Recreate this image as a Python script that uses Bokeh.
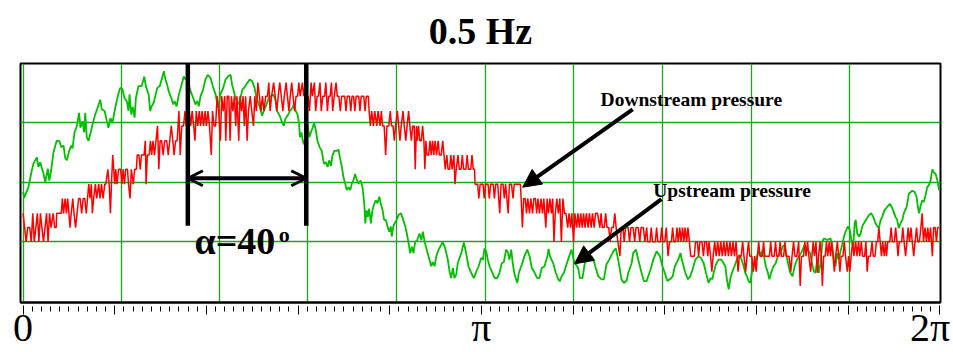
from bokeh.plotting import figure
from bokeh.models import Range1d, FixedTicker, Label, Arrow, OpenHead, NormalHead
from bokeh.embed import file_html
from bokeh.resources import INLINE

# Phase is in degrees: 0 .. 360 corresponds to 0 .. 2π on the axis.
# Pressure values are in grid divisions (four divisions from bottom to top).

# Upstream pressure (green trace)
green_deg = [
    0, 0.4, 2.1, 3.4, 4.1, 5.4, 6.0, 6.7, 8.0, 8.7,
    9.7, 10.3, 11.0, 11.9, 13.2, 14.2, 15.0, 15.9, 16.5, 17.2,
    18.1, 18.9, 19.4, 20.2, 21.1, 22.0, 22.5, 23.3, 24.0, 24.4,
    25.0, 25.7, 26.7, 27.3, 28.3, 29.3, 30.3, 30.9, 32.0, 32.9,
    33.5, 34.3, 35.1, 36.2, 37.2, 38.1, 39.0, 39.8, 40.7, 41.4,
    41.8, 42.5, 43.1, 43.8, 44.3, 45.3, 46.6, 47.6, 48.2, 49.3,
    49.9, 50.5, 51.3, 52.7, 53.7, 54.6, 55.3, 55.9, 56.6, 57.2,
    58.2, 59.0, 59.5, 60.3, 61.2, 62.1, 63.1, 63.8, 64.5, 65.1,
    65.8, 66.8, 67.7, 68.4, 69.0, 69.7, 70.7, 71.6, 72.5, 73.6,
    74.7, 75.6, 76.2, 76.9, 77.5, 78.6, 79.5, 80.4, 81.5, 82.1,
    82.8, 83.4, 84.3, 85.1, 86.1, 87.0, 88.0, 89.0, 90.0, 90.9,
    91.7, 92.6, 93.2, 93.9, 94.5, 95.6, 96.5, 97.2, 98.2, 99.1,
    99.8, 100.8, 101.8, 102.4, 102.9, 103.8, 104.8, 105.8, 106.5, 107.1,
    107.8, 108.4, 108.7, 109.3, 110.0, 110.5, 111.0, 111.7, 112.4, 113.0,
    113.7, 114.3, 115.0, 115.6, 116.5, 117.3, 117.9, 118.3, 118.9, 119.6,
    120.2, 120.9, 121.5, 122.2, 123.1, 123.9, 124.4, 125.2, 125.8, 126.5,
    127.1, 127.8, 128.5, 129.1, 129.7, 130.4, 130.9, 131.7, 132.6, 133.3,
    134.0, 134.4, 134.9, 135.4, 135.9, 136.6, 137.2, 137.9, 138.5, 139.2,
    139.9, 140.5, 141.2, 141.8, 142.5, 143.1, 143.8, 144.4, 144.8, 145.4,
    145.9, 146.7, 147.4, 148.4, 149.3, 150.1, 150.7, 151.4, 152.0, 152.7,
    153.3, 154.0, 154.8, 155.7, 156.4, 157.0, 157.7, 158.7, 159.6, 160.3,
    160.9, 161.6, 162.3, 163.2, 164.2, 164.8, 165.8, 166.8, 167.5, 168.1,
    168.8, 169.4, 170.1, 170.7, 172.1, 173.1, 174.0, 174.9, 176.0, 177.0,
    178.0, 178.9, 179.9, 180.6, 181.2, 181.9, 182.5, 183.2, 184.1, 185.2,
    186.2, 187.1, 188.0, 188.8, 189.7, 190.4, 191.0, 191.7, 192.3, 193.0,
    194.1, 194.7, 195.9, 196.9, 198.0, 198.9, 199.8, 200.9, 201.9, 202.8,
    203.7, 204.8, 205.9, 206.4, 206.9, 208.2, 209.2, 210.2, 210.8, 211.5,
    212.4, 213.4, 214.5, 215.4, 216.2, 217.1, 218.0, 218.7, 219.7, 220.6,
    222.0, 223.3, 224.0, 224.9, 225.9, 227.2, 228.1, 229.1, 230.2, 231.8,
    232.8, 233.7, 234.4, 235.0, 235.9, 237.0, 237.7, 239.0, 239.6, 240.7,
    241.6, 242.9, 243.8, 244.9, 245.5, 246.4, 247.5, 248.8, 250.1, 251.1,
    252.0, 253.0, 254.0, 255.1, 256.0, 257.3, 258.2, 258.7, 260.1, 261.1,
    262.0, 262.9, 264.0, 265.3, 266.2, 267.3, 268.2, 269.2, 270.0, 270.7,
    271.2, 272.1, 273.1, 274.2, 275.1, 275.8, 276.4, 277.1, 277.7, 278.4,
    279.4, 280.3, 281.3, 282.2, 283.0, 283.6, 284.3, 284.9, 285.6, 286.2,
    287.3, 288.2, 289.1, 289.8, 290.4, 291.2, 291.7, 292.5, 293.1, 293.8,
    294.7, 295.6, 296.4, 297.4, 298.3, 299.1, 299.6, 300.4, 301.3, 302.2,
    303.0, 303.9, 304.8, 305.9, 306.9, 307.8, 309.1, 309.9, 310.6, 311.2,
    311.9, 312.5, 313.2, 313.9, 314.5, 315.8, 317.1, 317.8, 318.4, 319.1,
    319.7, 320.4, 321.0, 321.7, 322.4, 323.0, 323.9, 324.7, 325.3, 326.0,
    326.6, 327.0, 327.6, 328.3, 328.9, 329.6, 330.2, 331.3, 332.2, 333.1,
    333.9, 334.8, 335.5, 336.1, 336.8, 337.4, 338.3, 339.4, 340.4, 341.1,
    341.7, 342.6, 343.3, 343.9, 344.6, 345.3, 345.9, 347.0, 347.9, 349.2,
    350.1, 350.9, 351.4, 351.9, 352.4, 353.1, 353.7, 354.4, 355.1, 355.7,
    356.4, 357.1, 357.7, 358.4, 359.1, 359.7,
]
green_val = [
    1.84, 1.74, 1.92, 2.2, 2.32, 2.42, 2.26, 2.34, 2.15, 2.0,
    2.23, 2.03, 2.2, 2.5, 2.7, 2.7, 2.59, 2.62, 2.42, 2.37,
    2.53, 2.62, 2.57, 2.84, 2.95, 3.17, 2.92, 3.03, 2.84, 3.17,
    2.76, 2.7, 2.87, 2.98, 3.14, 3.26, 3.39, 3.23, 3.2, 3.03,
    2.92, 3.08, 3.0, 3.26, 3.45, 3.59, 3.57, 3.42, 3.37, 3.2,
    3.48, 3.14, 3.27, 3.09, 3.42, 3.62, 3.62, 3.78, 3.62, 3.48,
    3.2, 3.28, 3.34, 3.59, 3.62, 3.76, 3.87, 3.73, 3.64, 3.53,
    3.42, 3.31, 3.37, 3.28, 3.48, 3.62, 3.78, 3.73, 3.78, 3.64,
    3.53, 3.42, 3.31, 3.37, 3.28, 3.45, 3.56, 3.73, 3.81, 3.76,
    3.59, 3.48, 3.34, 3.31, 3.48, 3.59, 3.73, 3.78, 3.81, 3.64,
    3.53, 3.42, 3.31, 3.37, 3.56, 3.6, 3.67, 3.73, 3.7, 3.59,
    3.42, 3.31, 3.23, 3.12, 3.2, 3.31, 3.42, 3.45, 3.48, 3.39,
    3.2, 3.12, 3.0, 2.95, 3.06, 3.12, 3.2, 3.26, 3.31, 3.2,
    3.14, 2.98, 2.76, 2.84, 2.67, 2.64, 2.89, 2.98, 2.76, 2.84,
    2.92, 3.0, 2.87, 2.7, 2.59, 2.53, 2.37, 2.31, 2.34, 2.26,
    2.37, 2.28, 2.45, 2.53, 2.53, 2.55, 2.42, 2.26, 2.09, 1.98,
    1.87, 1.92, 1.87, 1.98, 2.03, 2.14, 2.06, 1.98, 2.03, 1.92,
    1.64, 1.31, 1.53, 1.42, 1.56, 1.31, 1.53, 1.64, 1.7, 1.65,
    1.76, 1.64, 1.53, 1.37, 1.37, 1.26, 1.17, 1.26, 1.09, 1.26,
    1.31, 1.37, 1.45, 1.48, 1.37, 1.26, 1.14, 0.98, 0.81, 0.92,
    0.81, 1.0, 1.03, 1.14, 1.03, 1.17, 1.0, 0.84, 0.7, 0.59,
    0.66, 0.59, 0.76, 0.87, 0.95, 1.0, 0.89, 0.7, 0.5, 0.39,
    0.56, 0.39, 0.45, 0.64, 0.81, 0.99, 0.81, 0.59, 0.48, 0.39,
    0.5, 0.59, 0.73, 0.7, 0.89, 0.84, 0.7, 0.59, 0.5, 0.39,
    0.39, 0.48, 0.64, 0.66, 0.87, 0.82, 0.7, 0.87, 0.64, 0.45,
    0.31, 0.48, 0.62, 0.76, 0.87, 0.76, 0.56, 0.48, 0.39, 0.39,
    0.56, 0.59, 0.76, 0.88, 0.76, 0.64, 0.48, 0.37, 0.34, 0.42,
    0.48, 0.62, 0.76, 0.87, 0.7, 0.62, 0.56, 0.39, 0.39, 0.64,
    0.73, 0.76, 0.7, 0.56, 0.42, 0.37, 0.37, 0.62, 0.7, 0.84,
    0.89, 0.7, 0.53, 0.37, 0.31, 0.34, 0.48, 0.64, 0.81, 0.87,
    0.7, 0.48, 0.34, 0.34, 0.42, 0.53, 0.7, 0.84, 0.76, 0.59,
    0.48, 0.34, 0.37, 0.42, 0.59, 0.7, 0.81, 0.7, 0.48, 0.37,
    0.42, 0.53, 0.7, 0.76, 0.73, 0.64, 0.48, 0.31, 0.39, 0.37,
    0.48, 0.62, 0.7, 0.7, 0.64, 0.59, 0.37, 0.2, 0.37, 0.48,
    0.59, 0.7, 0.78, 0.7, 0.59, 0.48, 0.42, 0.34, 0.31, 0.48,
    0.62, 0.76, 0.84, 0.76, 0.87, 0.7, 0.59, 0.48, 0.37, 0.48,
    0.59, 0.64, 0.76, 0.81, 0.92, 0.95, 0.81, 0.64, 0.48, 0.42,
    0.59, 0.7, 0.76, 0.84, 0.95, 0.87, 0.81, 0.62, 0.5, 0.48,
    0.7, 0.48, 0.64, 1.0, 1.06, 1.03, 1.06, 0.92, 0.7, 0.59,
    0.81, 0.7, 0.84, 0.95, 1.09, 1.17, 1.26, 1.2, 1.03, 0.92,
    1.31, 1.37, 1.14, 1.09, 1.14, 1.26, 1.31, 1.39, 1.45, 1.48,
    1.42, 1.31, 1.26, 1.23, 1.37, 1.42, 1.53, 1.59, 1.64, 1.59,
    1.53, 1.42, 1.37, 1.23, 1.31, 1.37, 1.48, 1.59, 1.81, 1.86,
    1.84, 1.76, 1.59, 1.48, 1.59, 1.7, 1.67, 1.78, 1.92, 1.95,
    2.03, 2.22, 2.17, 2.14, 2.03, 1.87,
]

# Downstream pressure (red trace), (phase in degrees, value) samples
red_samples = [
    (0, 1.48), (0.6, 1.24), (1.2, 1.0), (1.8, 1.24), (2.6, 1.24), (3.2, 1.0), (3.8, 1.48),
    (4.4, 1.0), (5.0, 1.24), (5.6, 1.48), (6.2, 1.0), (6.8, 1.48), (7.4, 1.24), (8.0, 1.0),
    (8.6, 1.24), (9.2, 1.48), (9.8, 1.0), (10.4, 1.48), (11.0, 1.24), (11.8, 1.48), (12.4, 1.24),
    (13.0, 1.24), (13.2, 1.48), (15.0, 1.48),
    (15.4, 1.73), (15.9, 1.48), (16.5, 1.73), (17.0, 1.48), (17.5, 1.73), (18.0, 1.48), (18.4, 1.24),
    (18.9, 1.48), (19.5, 1.73), (20.0, 1.48), (20.6, 1.24), (21.2, 1.48), (21.8, 1.73),
    (22.4, 1.73), (23.0, 1.48), (23.6, 1.73), (24.2, 1.73), (24.8, 1.48), (25.3, 1.73),
    (25.8, 1.97), (26.3, 1.73), (26.8, 1.97), (27.2, 1.48), (27.7, 1.73),
    (28.4, 1.97), (28.9, 1.73), (29.7, 1.97), (30.2, 1.73), (30.8, 1.97), (31.4, 1.73), (32.1, 1.97), (32.5, 1.97),
    (33.3, 2.22), (33.8, 1.97), (34.3, 1.48), (34.7, 1.97), (35.2, 2.46), (35.6, 2.22), (36.0, 1.97),
    (36.4, 2.22), (36.9, 1.97), (37.5, 2.22),
    (38.3, 2.22), (38.8, 1.97), (39.3, 2.22), (39.8, 1.97), (40.3, 2.22), (41.0, 2.22), (41.4, 1.97),
    (42.0, 1.73), (42.5, 2.22), (43.3, 1.97), (43.8, 2.22), (44.5, 2.22),
    (44.8, 2.46), (45.5, 2.46), (46.0, 2.22), (46.5, 2.46), (47.5, 2.46), (48.0, 2.7), (48.3, 1.97),
    (48.8, 2.46), (49.5, 2.46), (50.0, 2.7), (50.5, 2.46),
    (51.0, 2.7), (51.6, 2.46), (52.2, 2.7), (52.8, 2.95), (53.3, 2.22), (53.8, 2.7), (54.4, 2.7),
    (55.0, 2.46), (55.6, 2.7), (56.4, 2.7), (57.0, 2.46), (57.6, 2.7), (58.2, 2.95), (58.8, 2.7),
    (59.3, 2.46), (59.9, 2.7), (60.5, 2.7), (61.2, 3.2), (61.7, 2.46), (62.3, 2.95),
    (63.0, 2.95), (63.6, 3.2), (64.1, 2.95), (64.8, 2.95), (65.3, 3.2), (65.8, 2.95), (66.4, 3.2),
    (67.0, 2.95), (67.5, 2.7), (68.0, 3.2), (68.6, 2.95), (69.2, 3.2), (69.7, 2.95), (70.3, 3.2),
    (70.9, 2.95), (71.5, 3.2), (72.0, 2.95), (72.6, 3.2), (73.2, 2.95), (73.9, 2.46), (74.4, 3.2),
    (75.0, 2.95), (75.6, 2.95),
    (76.2, 3.45), (76.8, 3.2), (77.5, 2.7), (78.0, 3.45), (78.6, 3.2), (79.2, 3.45), (79.6, 2.7),
    (80.2, 3.45), (80.8, 3.45), (81.3, 2.7), (81.8, 3.45), (82.4, 3.2), (83.0, 3.45), (83.5, 2.95),
    (84.0, 3.45), (84.7, 2.7), (85.2, 3.45), (85.8, 3.2), (86.4, 3.45), (86.9, 2.95), (87.4, 3.45),
    (88.0, 2.7), (88.5, 3.2), (89.2, 3.45), (89.8, 3.2), (90.5, 2.95), (91.0, 3.45), (91.6, 3.2),
    (92.2, 3.68), (92.8, 3.45), (93.4, 3.2), (94.0, 3.45), (94.6, 3.2), (95.3, 3.45), (96.0, 3.45),
    (96.5, 3.68), (97.0, 3.2), (97.6, 3.45), (98.4, 3.68), (99.0, 3.45), (99.6, 3.2), (100.2, 3.45),
    (100.8, 3.68), (101.4, 3.45), (102.0, 3.2),
    (102.6, 3.45), (103.3, 3.68), (103.8, 3.45), (104.4, 3.2), (104.9, 3.45), (105.5, 3.68), (106.0, 3.45),
    (106.6, 3.2), (107.2, 3.45), (107.8, 3.45), (108.3, 3.68), (108.8, 3.45), (109.7, 3.68), (110.2, 3.45),
    (110.8, 3.68), (111.3, 3.2), (111.9, 3.45), (112.5, 3.2), (113.1, 3.68), (113.6, 3.45), (114.4, 3.68),
    (114.9, 3.2), (115.5, 3.45), (116.0, 3.45), (116.6, 3.68), (117.1, 3.2), (117.7, 3.45), (118.4, 3.45),
    (118.9, 3.68), (119.5, 3.2), (120.0, 3.45), (120.6, 3.45), (121.1, 3.68), (121.6, 3.2), (122.2, 3.45),
    (122.9, 3.68), (123.4, 3.45), (124.0, 3.45),
    (124.6, 3.2), (125.1, 3.45), (126.3, 3.45), (126.8, 3.2), (127.3, 3.45), (128.2, 3.45), (128.7, 3.2),
    (129.2, 3.45), (129.8, 3.45), (130.3, 3.2), (130.8, 3.45), (131.8, 3.45), (132.3, 3.2), (132.8, 3.45),
    (133.8, 3.45), (134.3, 3.2), (134.8, 3.45), (135.6, 3.45), (135.9, 3.2),
    (136.4, 2.95), (136.9, 3.2), (137.6, 2.95), (138.1, 3.2), (138.9, 2.95), (139.4, 3.2), (140.2, 2.95),
    (140.7, 3.2), (141.2, 2.95),
    (141.8, 2.95), (142.4, 2.46), (142.9, 2.95), (143.6, 2.95), (144.2, 3.2), (144.7, 2.95), (145.3, 2.95),
    (145.8, 2.7), (146.3, 2.95), (147.0, 3.2), (147.5, 2.95), (148.0, 2.7), (148.5, 2.95), (149.2, 3.2),
    (149.7, 2.95), (150.3, 2.7), (150.8, 2.95), (151.4, 3.2), (151.9, 2.95), (152.5, 2.7), (153.0, 2.95),
    (153.6, 2.95), (154.0, 2.22), (154.5, 2.95),
    (154.8, 2.7), (155.3, 2.95), (155.8, 2.7), (156.4, 2.7), (156.9, 2.95), (157.4, 2.7), (157.8, 2.22), (158.2, 2.7),
    (158.6, 2.46), (159.3, 2.46), (159.8, 2.7), (160.3, 2.46), (160.8, 2.7), (161.3, 2.46), (161.8, 2.7),
    (162.4, 2.46), (163.0, 2.7), (163.5, 2.46), (164.2, 2.46), (164.8, 2.7), (165.3, 2.46),
    (165.8, 2.22), (166.4, 2.46), (166.9, 2.22), (167.5, 2.22), (168.0, 2.46), (168.5, 2.22), (169.2, 2.46),
    (169.6, 1.97), (170.1, 2.22), (170.8, 2.46), (171.3, 2.22), (172.0, 2.22), (172.5, 2.46), (173.0, 2.22),
    (173.9, 2.22), (174.4, 2.46), (174.9, 2.22), (175.8, 2.22), (176.3, 2.46), (176.8, 2.22), (177.3, 2.22),
    (177.5, 1.97), (178.5, 1.97), (179.0, 1.73), (179.5, 1.97), (180.6, 1.97), (181.1, 1.73), (181.6, 1.97),
    (182.6, 1.97), (183.1, 1.73), (183.6, 1.97), (184.6, 1.97), (185.1, 1.73), (185.6, 1.97), (186.4, 1.97),
    (187.2, 1.48), (187.7, 1.97), (188.5, 1.97), (189.0, 1.73), (189.5, 1.97), (190.5, 1.48), (191.0, 1.97),
    (191.8, 1.97), (192.4, 1.73), (192.9, 1.97), (194.0, 1.97), (194.6, 1.97), (195.3, 1.97), (195.6, 1.73),
    (196.1, 1.24), (196.6, 1.73), (197.2, 1.73), (197.7, 1.48), (198.2, 1.73), (198.9, 1.48), (199.4, 1.73),
    (200.1, 1.48), (200.6, 1.73), (201.2, 1.73), (201.7, 1.48), (202.2, 1.73), (202.8, 1.48), (203.4, 1.73),
    (204.0, 1.48), (204.5, 1.73), (205.3, 1.24), (205.8, 1.73),
    (206.3, 1.48), (206.9, 1.73), (207.5, 1.48), (208.0, 1.73), (208.5, 1.0), (209.0, 1.48), (209.6, 1.73),
    (210.2, 1.48), (210.8, 1.73), (211.4, 1.0), (212.0, 1.73), (212.6, 1.48), (213.2, 1.48),
    (213.9, 1.24), (214.4, 1.48), (215.0, 1.24), (215.5, 1.48), (216.2, 1.0), (216.7, 1.48), (217.4, 1.24),
    (217.9, 1.48), (218.5, 1.24), (219.0, 1.48), (219.6, 1.24), (220.1, 1.48), (220.7, 1.24), (221.2, 1.48),
    (221.9, 1.24), (222.4, 1.48), (223.1, 1.24), (223.6, 1.48), (224.3, 1.24), (224.8, 1.48), (225.6, 1.48),
    (226.5, 1.24), (227.0, 1.48),
    (227.5, 1.24), (228.2, 1.24), (228.8, 1.48), (229.3, 1.24), (230.0, 1.24), (230.6, 1.0), (231.1, 1.24),
    (231.8, 1.24), (232.4, 1.48), (232.9, 1.24), (233.6, 1.0), (234.4, 0.76), (234.9, 1.24), (235.6, 1.24),
    (236.1, 1.0), (236.6, 1.24), (237.6, 1.24), (238.2, 1.0), (238.7, 1.24), (239.6, 1.24), (240.2, 1.0),
    (240.7, 1.24), (241.6, 1.24), (242.2, 1.0), (242.7, 1.24), (243.6, 1.24), (244.2, 1.0), (244.9, 1.24),
    (245.3, 1.0), (246.2, 1.0), (246.7, 1.24), (247.2, 1.0), (248.3, 1.0), (248.8, 1.24), (249.3, 1.0),
    (250.3, 1.0), (250.8, 1.24), (251.3, 1.0), (252.0, 1.0), (252.6, 1.24), (253.3, 0.76), (253.9, 1.0),
    (254.6, 1.0), (255.1, 1.24), (255.6, 1.0), (256.3, 1.0), (256.8, 1.24), (257.3, 1.0),
    (257.9, 1.24), (258.4, 1.0), (259.0, 1.24), (259.5, 1.0), (260.0, 1.24), (260.6, 1.0), (261.1, 1.24),
    (261.7, 1.0), (262.2, 0.76), (263.6, 0.76), (264.1, 1.0),
    (264.8, 1.0), (265.3, 0.76), (265.8, 1.0), (266.6, 1.0), (267.2, 0.76), (267.7, 1.0), (268.4, 1.0),
    (268.9, 0.76), (269.4, 1.0), (270.0, 0.76), (270.5, 0.5), (271.0, 0.76),
    (271.6, 1.0), (272.2, 0.76), (272.8, 1.0), (273.4, 0.76), (274.0, 1.0), (274.6, 0.76), (275.2, 1.0),
    (275.8, 0.76), (276.4, 1.0), (277.0, 0.76), (277.6, 1.0), (278.2, 0.76), (278.8, 1.0), (279.4, 0.76),
    (280.0, 1.0), (280.8, 0.5), (281.3, 0.76), (282.0, 0.76),
    (282.6, 1.0), (283.1, 0.76), (283.8, 0.5), (284.3, 0.76), (284.9, 1.0), (285.4, 0.76), (286.2, 0.76),
    (286.8, 0.5), (287.3, 0.76), (287.9, 0.5), (288.4, 0.76), (288.9, 1.0), (289.4, 0.76), (290.3, 0.76),
    (290.8, 1.0), (291.3, 0.76),
    (292.2, 0.76), (293.1, 0.76), (293.6, 1.0), (294.1, 0.76), (295.0, 0.76), (295.5, 1.0), (296.0, 0.76),
    (296.8, 0.76), (297.3, 1.0), (297.8, 0.76), (298.7, 0.76), (299.2, 1.0), (299.7, 0.76), (300.8, 0.76),
    (301.5, 0.5), (302.0, 0.76), (302.6, 1.0), (303.1, 0.76), (303.9, 0.76), (304.6, 1.0), (305.2, 0.26),
    (305.7, 0.76), (306.5, 0.76), (307.0, 1.0), (307.5, 0.76), (308.1, 1.0), (308.6, 0.76), (309.3, 0.5),
    (309.8, 0.76),
    (310.3, 1.0), (310.8, 0.76), (311.4, 1.0), (311.9, 0.48), (312.4, 0.76), (313.0, 1.0), (313.5, 0.76),
    (313.9, 0.26), (314.4, 0.76), (315.0, 0.76), (315.5, 1.0), (316.0, 0.76), (316.6, 1.0), (317.1, 0.76),
    (317.6, 1.0), (318.1, 0.76), (318.6, 0.5), (319.1, 0.76), (319.8, 1.0), (320.3, 0.76), (320.8, 0.5),
    (321.3, 0.76), (322.0, 0.76), (322.5, 1.0), (323.0, 0.76), (323.7, 0.5), (324.2, 0.76),
    (324.7, 0.5), (325.2, 0.76), (325.8, 1.0), (326.3, 0.76), (327.0, 1.0), (327.5, 0.76), (328.1, 1.0),
    (328.6, 0.76), (329.2, 1.0), (329.7, 0.76), (330.5, 0.76), (331.0, 1.0), (331.5, 0.5), (332.0, 0.76),
    (332.8, 0.76), (333.4, 1.0), (333.9, 0.76), (334.6, 0.76), (335.1, 1.0),
    (335.6, 1.0), (336.1, 1.24), (336.6, 1.0), (337.1, 0.76), (337.6, 1.0), (338.2, 0.76), (338.7, 1.0),
    (339.1, 0.76), (339.6, 1.0), (340.4, 1.0), (340.9, 1.24), (341.4, 1.0), (342.2, 1.0), (342.7, 1.24),
    (343.2, 1.0), (343.6, 0.76), (344.1, 1.0), (345.0, 1.0), (345.5, 1.24), (346.0, 1.0), (346.6, 0.76),
    (347.1, 1.0), (347.6, 1.24),
    (348.1, 1.0), (348.7, 1.24), (349.2, 1.0), (349.8, 0.76), (350.3, 1.0), (350.9, 1.24), (351.4, 1.0),
    (352.0, 1.0), (352.6, 1.24), (353.1, 1.48), (353.6, 1.0), (354.2, 1.24), (354.8, 1.0), (355.3, 1.24),
    (355.8, 1.0), (356.4, 1.24), (357.1, 0.76), (357.6, 1.24), (358.2, 1.24), (358.7, 1.0), (359.2, 1.24),
    (359.7, 1.24),
]
red_deg = [d for d, _ in red_samples]
red_val = [v for _, v in red_samples]

# Grid and axis ticks
grid_deg = [0, 38.5, 77.1, 111.7, 146.7, 181.5, 216.3, 251.0, 286.0, 324.5]
grid_level = [1, 2, 3]
major_ticks = [0, 36, 72, 108, 144, 180, 216, 252, 288, 324, 360]
minor_ticks = [round(i * 3.6, 1) for i in range(101)]
# the trailing hair space keeps "2π" inside the right edge of the canvas
tick_text = {0: "0", 180: "π", 360: "2π\u200a"}

# Phase-lag markers and pointer annotations
lag_marks_deg = [64.7, 111.2]
lag_mark_top, lag_mark_bottom = 4.0, 1.27
lag_arrow_level = 2.07

SERIF = "Liberation Serif"

p = figure(width=953, height=352, output_backend="svg", toolbar_location=None,
           x_range=Range1d(-1.02, 360.3), y_range=Range1d(-0.02, 4.0),
           min_border_left=20, min_border_right=13, min_border_top=62, min_border_bottom=49,
           background_fill_color="white", border_fill_color="white")

p.title.text = "0.5 Hz"
p.title.align = "center"
p.title.vertical_align = "top"
p.title.text_color = "black"
p.title.text_font = SERIF
p.title.text_font_style = "bold"
p.title.text_font_size = "38px"
p.title.standoff = 19

p.yaxis.visible = False
p.outline_line_color = "black"
p.outline_line_width = 2

p.xgrid.ticker = FixedTicker(ticks=grid_deg)
p.ygrid.ticker = FixedTicker(ticks=grid_level)
p.grid.grid_line_color = "#1ea51e"
p.grid.grid_line_width = 1.3

# ticks hang a few pixels below the frame: the inner end is pushed outward
ax = p.xaxis[0]
ax.ticker = FixedTicker(ticks=major_ticks, minor_ticks=minor_ticks)
ax.major_label_overrides = {t: tick_text.get(t, "") for t in major_ticks}
ax.major_label_text_font = SERIF
ax.major_label_text_font_size = "40px"
ax.major_label_text_color = "black"
ax.major_label_standoff = -2
ax.axis_line_color = "black"
ax.axis_line_width = 2
ax.major_tick_line_color = "black"
ax.minor_tick_line_color = "black"
ax.major_tick_in = -12
ax.major_tick_out = 3
ax.minor_tick_in = -9
ax.minor_tick_out = 4

# pressure traces
p.line(green_deg, green_val, line_color="#00c000", line_width=1.8)
p.line(red_deg, red_val, line_color="#ff0000", line_width=1.5)

# phase lag markers
p.segment(x0=lag_marks_deg, y0=[lag_mark_top] * 2, x1=lag_marks_deg, y1=[lag_mark_bottom] * 2,
          line_color="black", line_width=4.5)
p.add_layout(Arrow(start=OpenHead(size=15, line_width=3, line_color="black"),
                   end=OpenHead(size=15, line_width=3, line_color="black"),
                   x_start=lag_marks_deg[0], y_start=lag_arrow_level,
                   x_end=lag_marks_deg[1], y_end=lag_arrow_level,
                   line_width=4, line_color="black"))
p.add_layout(Label(x=67.3, y=1.01, text="α=40", text_baseline="alphabetic", text_color="black",
                   text_font=SERIF, text_font_style="bold", text_font_size="38px"))
p.add_layout(Label(x=100.4, y=1.13, text="o", text_baseline="alphabetic", text_color="black",
                   text_font=SERIF, text_font_style="bold", text_font_size="22px"))

# pointers to the traces
p.add_layout(Arrow(end=NormalHead(size=18, fill_color="black", line_color="black"),
                   x_start=239.4, y_start=3.23, x_end=196.2, y_end=1.92,
                   line_width=4, line_color="black"))
p.add_layout(Arrow(end=NormalHead(size=18, fill_color="black", line_color="black"),
                   x_start=250.7, y_start=1.72, x_end=216.6, y_end=0.63,
                   line_width=4, line_color="black"))
p.add_layout(Label(x=226.8, y=3.4, text="Downstream pressure", text_baseline="alphabetic",
                   text_color="black", text_font=SERIF, text_font_style="bold", text_font_size="19.5px"))
p.add_layout(Label(x=247.5, y=1.87, text="Upstream pressure", text_baseline="alphabetic",
                   text_color="black", text_font=SERIF, text_font_style="bold", text_font_size="19.5px"))

open("out.html", "w").write(file_html(p, INLINE))
